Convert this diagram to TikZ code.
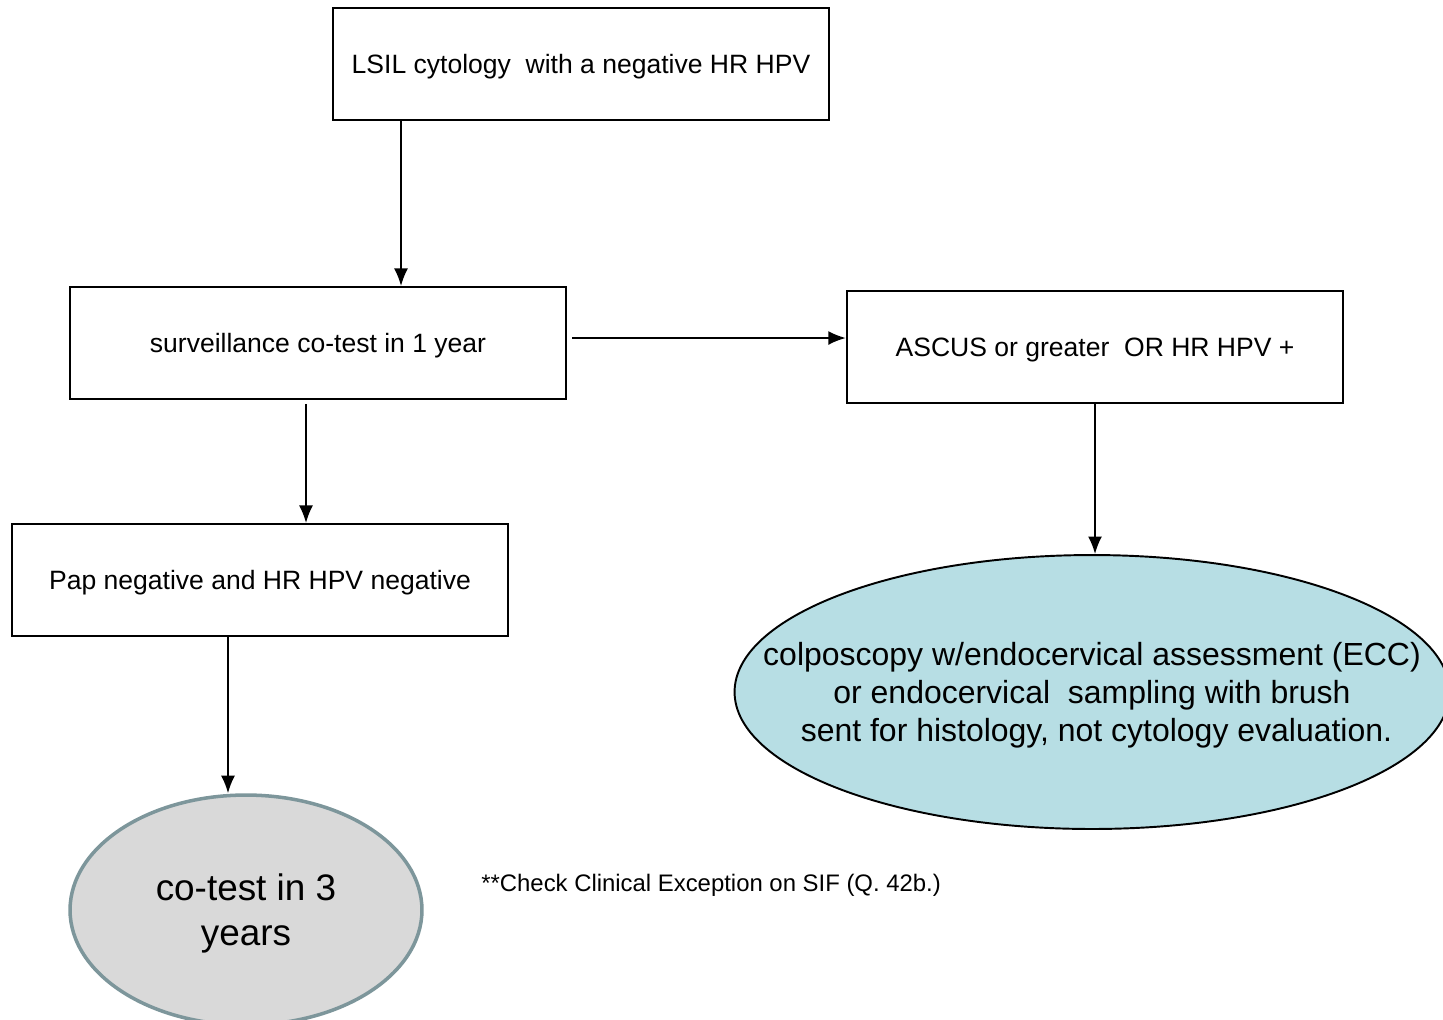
\documentclass[tikz,border=0pt]{standalone}
\usepackage{fontspec}
\setmainfont{Liberation Sans}
\usetikzlibrary{shapes, arrows.meta, positioning}
\definecolor{ecclblue}{RGB}{183,222,228}
\definecolor{cotestgrey}{RGB}{217,217,217}
\definecolor{cotestrim}{RGB}{125,150,155}

\begin{document}
\begin{tikzpicture}[x=0.02cm, y=-0.02cm]
\clip (0,0) rectangle (1443,1019);
\fill[white] (0,0) rectangle (1443,1019);
\begin{scope}[every node/.style={shape=rectangle,
    draw, line width=1.1pt, align=center, text depth=0pt,
    minimum width=9.93cm, minimum height=2.24cm,
    font=\fontsize{15.1pt}{18pt}\selectfont}]
    \node (lsil) at (581,64) {LSIL cytology\ \ with a negative HR HPV};
    \node (surv) at (318,343) {surveillance co-test in 1 year};
    \node (ascus) at (1095,347) {ASCUS or greater\ \ OR HR HPV +};
    \node (pap) at (260,580) {Pap negative and HR HPV negative};
\end{scope}

\begin{scope}[every node/.style={shape=ellipse, align=center, text depth=0pt}]
    \node[draw=black, line width=1.1pt, fill=ecclblue,
          inner xsep=-1.7cm, inner ysep=-0.3cm,
          minimum width=14.3cm, minimum height=5.48cm,
          font=\fontsize{18.2pt}{21.6pt}\selectfont] (ecc) at (1092,692)
          {colposcopy w/endocervical assessment (ECC)\\
           or endocervical\ \ sampling with brush\\
           \ sent for histology, not cytology evaluation.};
    \node[draw=cotestrim, line width=2pt, fill=cotestgrey,
          inner sep=0pt,
          minimum width=7.04cm, minimum height=4.6cm,
          font=\fontsize{21pt}{25.5pt}\selectfont] (cotest) at (246,910)
          {co-test in 3\\years};
\end{scope}

\node[anchor=west, inner sep=0pt, font=\fontsize{13.6pt}{16pt}\selectfont]
    (note) at (481,885) {**Check Clinical Exception on SIF (Q.\ 42b.)};

\begin{scope}[every edge/.style={-{Latex[length=10pt,width=8pt]},draw, line width=1.1pt}]
    \path (lsil.south -| 401,0) edge (surv.north -| 401,0);
    \path (surv.east) ++(5,-5) coordinate (survout) edge (ascus.west |- survout);
    \path (surv.south -| 306,0) ++(0,4) edge (pap.north -| 306,0);
    \path (ascus.south) edge (ascus.south |- ecc.north);
    \path (pap.south -| 228,0) edge (cotest.north -| 228,0);
\end{scope}
\end{tikzpicture}
\end{document}
